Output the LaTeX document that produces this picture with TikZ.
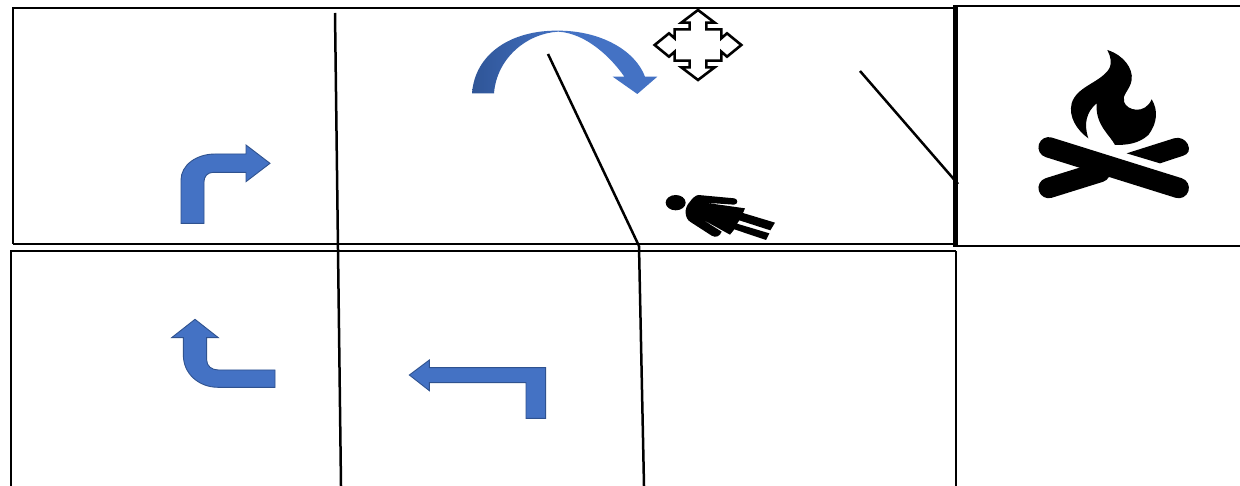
\documentclass[tikz,border=0pt]{standalone}
\definecolor{arrowblue}{HTML}{4472C4}
\definecolor{arrowedge}{HTML}{2F528F}
\definecolor{arrowdark}{HTML}{2F5597}
\tikzset{
  px/.style={x=1pt,y=-1pt},
  zoomed/.style={shift={(#1)},x=0.33333pt,y=-0.33333pt},
  frame/.style={draw=black,line width=2.5pt},
  thickframe/.style={draw=black,line width=4.2pt},
  rule/.style={draw=black,line width=2.5pt},
  bentarrow/.style={fill=arrowblue,draw=arrowedge,line width=0.9pt,line join=miter},
  sil/.style={fill=black,draw=none},
  movearrow/.style={fill=white,draw=black,line width=2.6pt,line join=miter,miter limit=10}
}
\begin{document}
\begin{tikzpicture}[px]
\useasboundingbox (0,0) rectangle (1240,486);
\fill[white] (0,0) rectangle (1240,486);
% frames
\draw[frame] (13,244) -- (13,8) -- (954,8);
\draw[frame] (13,244) -- (954,244);
\draw[frame] (11,486) -- (11,251) -- (956,251);
\draw[thickframe] (955.5,5.5) -- (955.5,247);
\draw[frame] (955.5,6) -- (1240,6);
\draw[frame] (955.5,246) -- (1240,246);
\draw[frame] (956,251) -- (956,486);
% verticals and slants
\draw[rule] (335,13) -- (341,486);
\draw[rule] (639,246) -- (644,486);
\draw[rule] (548,54) -- (639,246);
\draw[rule] (860,71) -- (958,184);
% curved arrow
\begin{scope}[zoomed={440,0}]
\path[left color=arrowdark,right color=arrowblue,middle color=arrowblue]
 (96,280) .. controls (105,160) and (215,90) .. (355,92)
 .. controls (480,92) and (585,150) .. (615,230) -- (652,230) -- (592,282) -- (518,230) -- (553,230)
 .. controls (515,175) and (440,100) .. (355,95)
 .. controls (260,100) and (170,175) .. (162,280) -- cycle;
\end{scope}
% four-way move arrow
\begin{scope}[zoomed={698,45}]
\draw[movearrow] (0,-105) -- (50,-67) -- (25,-67) -- (25,-47) -- (70,-47) -- (70,-20) -- (87,-35) -- (130,0)
 -- (87,35) -- (70,20) -- (70,47) -- (25,47) -- (25,67) -- (50,67) -- (0,105)
 -- (-50,67) -- (-25,67) -- (-25,47) -- (-70,47) -- (-70,20) -- (-87,35) -- (-130,0)
 -- (-87,-35) -- (-70,-20) -- (-70,-47) -- (-25,-47) -- (-25,-67) -- (-50,-67) -- cycle;
\end{scope}
% person
\begin{scope}[zoomed={640,170}]
\fill[sil] (107,98) ellipse [x radius=30,y radius=23];
\fill[sil] (175,75) -- (283,85) .. controls (295,87) and (295,103) .. (282,104) -- (195,98)
 -- (315,115) -- (309,129) -- (405,158) -- (391,181) -- (298,151) -- (291,161) -- (388,190) -- (378,210) -- (283,178) -- (270,194) -- (178,143)
 -- (245,185) .. controls (240,198) and (228,205) .. (215,197) -- (150,155) .. controls (135,145) and (130,115) .. (150,95) .. controls (157,85) and (165,77) .. (175,75) -- cycle;
\end{scope}
% campfire
\begin{scope}[zoomed={1020,40}]
\fill[sil] (262,30) .. controls (310,45) and (340,85) .. (335,120)
 .. controls (330,150) and (305,165) .. (312,185)
 .. controls (320,212) and (375,225) .. (395,178)
 .. controls (415,210) and (412,250) .. (385,285)
 .. controls (355,312) and (320,315) .. (285,315)
 .. controls (270,285) and (225,255) .. (230,190)
 .. controls (200,215) and (190,250) .. (205,295)
 .. controls (170,270) and (145,230) .. (155,190)
 .. controls (170,140) and (235,130) .. (265,90)
 .. controls (278,70) and (272,50) .. (262,30) -- cycle;
\draw[black,line width=20.5pt,line cap=round] (86,322) -- (476,444);
\draw[black,line width=20.5pt,line cap=round] (86,444) -- (240,396);
\fill[sil] (320,340) -- (462,295) .. controls (480,290) and (495,298) .. (503,312)
 .. controls (512,330) and (505,342) .. (490,347) -- (420,370) -- cycle;
\end{scope}
% bent arrows
\begin{scope}[zoomed={150,130}]
\draw[bentarrow] (93,280) -- (93,150) .. controls (93,105) and (140,72) .. (195,72) -- (288,72) -- (288,45) -- (360,100) -- (288,155) -- (288,127) -- (190,127) .. controls (172,127) and (162,140) .. (162,155) -- (162,280) -- cycle;
\end{scope}
\begin{scope}[zoomed={150,310}]
\draw[bentarrow] (135,28) -- (205,83) -- (170,83) -- (170,150) .. controls (170,168) and (185,180) .. (205,180) -- (375,180) -- (375,232) -- (205,232) .. controls (145,232) and (100,190) .. (100,135) -- (100,83) -- (65,83) -- cycle;
\end{scope}
\begin{scope}[zoomed={400,350}]
\draw[bentarrow] (28,75) -- (88,30) -- (88,53) -- (437,53) -- (437,205) -- (378,205) -- (378,98) -- (88,98) -- (88,122) -- cycle;
\end{scope}
\end{tikzpicture}
\end{document}
